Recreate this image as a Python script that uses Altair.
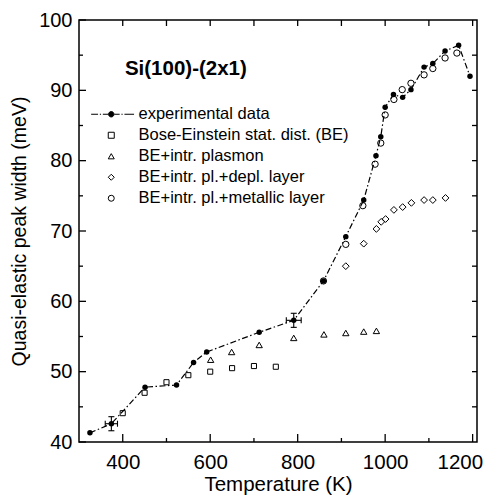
import altair as alt
import pandas as pd

FONT = "Liberation Sans"

# ---------------- data ----------------
series_names = [
    "experimental data",
    "Bose-Einstein stat. dist. (BE)",
    "BE+intr. plasmon",
    "BE+intr. pl.+depl. layer",
    "BE+intr. pl.+metallic layer",
]

exp_T = [325, 374, 451, 523, 562, 592, 712, 791, 859, 910, 951, 979, 990, 1000,
         1019, 1040, 1059, 1089, 1109, 1137, 1168, 1194]
exp_W = [41.3, 42.6, 47.8, 48.1, 51.3, 52.8, 55.6, 57.3, 62.9, 69.2, 74.4, 80.7, 83.4, 87.6,
         89.4, 89.0, 90.1, 93.3, 93.8, 95.6, 96.4, 92.0]

be_T = [400, 450, 500, 550, 600, 650, 700, 750]
be_W = [44.1, 47.0, 48.5, 49.5, 50.0, 50.5, 50.8, 50.7]

pl_T = [601, 649, 712, 791, 860, 910, 951, 980]
pl_W = [51.7, 52.8, 53.8, 54.8, 55.3, 55.5, 55.7, 55.8]

dep_T = [910, 951, 980, 991, 1001, 1020, 1040, 1060, 1089, 1109, 1138]
dep_W = [65.0, 68.2, 70.3, 71.3, 71.7, 73.0, 73.4, 74.0, 74.4, 74.4, 74.7]

met_T = [859, 910, 949, 977, 990, 1000, 1020, 1039, 1059, 1089, 1109, 1137, 1164]
met_W = [62.9, 68.1, 73.6, 79.5, 82.5, 86.5, 88.7, 90.1, 91.0, 92.2, 93.1, 94.6, 95.3]

err_T = [374, 791]
err_W = [42.6, 57.3]
err_dT = [14, 17]
err_dW = [1.0, 1.0]

x_labels = [400, 600, 800, 1000, 1200]
x_minor = [500, 700, 900, 1100]
x_top = [400, 500, 600, 700, 800, 900, 1000, 1100, 1200]
y_labels = [40, 50, 60, 70, 80, 90, 100]
y_minor = [45, 55, 65, 75, 85, 95]
y_right = [45, 50, 55, 60, 65, 70, 75, 80, 85, 90, 95]

panel_title = "Si(100)-(2x1)"

# ---------------- frames ----------------
W, H = 398, 422
xdom = [300, 1210]
ydom = [40, 100]
px_per_K = W / (xdom[1] - xdom[0])
px_per_meV = H / (ydom[1] - ydom[0])

exp_df = pd.DataFrame({"T": exp_T, "W": exp_W})

model_frames = []
for name, ts, ws in [
    (series_names[1], be_T, be_W),
    (series_names[2], pl_T, pl_W),
    (series_names[3], dep_T, dep_W),
    (series_names[4], met_T, met_W),
]:
    model_frames.append(pd.DataFrame({"T": ts, "W": ws, "series": name}))

# error bar segments
err_segs = []
for t, w, dt, dw in zip(err_T, err_W, err_dT, err_dW):
    cx = 3 / px_per_K
    cy = 3 / px_per_meV
    err_segs += [
        (t - dt, t + dt, w, w), (t, t, w - dw, w + dw),
        (t - cx, t + cx, w - dw, w - dw), (t - cx, t + cx, w + dw, w + dw),
        (t - dt, t - dt, w - cy, w + cy), (t + dt, t + dt, w - cy, w + cy),
    ]
err_df = pd.DataFrame(err_segs, columns=["x0", "x1", "y0", "y1"])

# inward axis ticks (lengths converted from pixels)
tick_segs = []
for v in x_labels:
    tick_segs.append((v, v, ydom[0], ydom[0] + 8 / px_per_meV))
for v in x_minor:
    tick_segs.append((v, v, ydom[0], ydom[0] + 4 / px_per_meV))
for v in x_top:
    tick_segs.append((v, v, ydom[1] - 6 / px_per_meV, ydom[1]))
for v in y_labels:
    tick_segs.append((xdom[0], xdom[0] + 7 / px_per_K, v, v))
for v in y_minor:
    tick_segs.append((xdom[0], xdom[0] + 4 / px_per_K, v, v))
for v in y_right:
    tick_segs.append((xdom[1] - 5 / px_per_K, xdom[1], v, v))
tick_df = pd.DataFrame(tick_segs, columns=["x0", "x1", "y0", "y1"])

xs = alt.Scale(domain=xdom, nice=False, zero=False)
ys = alt.Scale(domain=ydom, nice=False, zero=False)

x_enc = alt.X("T:Q", scale=xs, axis=alt.Axis(
    values=x_labels, title="Temperature (K)", format="d",
    ticks=False, domain=False, grid=False,
    labelFont=FONT, labelFontSize=20.5, labelColor="black", labelPadding=10,
    labelFlush=10, labelFlushOffset=10,
    titleFont=FONT, titleFontSize=20.5, titleFontWeight="normal", titleColor="black",
    titleBaseline="alphabetic", titleY=48.5))
y_enc = alt.Y("W:Q", scale=ys, axis=alt.Axis(
    values=y_labels, title="Quasi-elastic peak width (meV)", format="d",
    ticks=False, domain=False, grid=False,
    labelFont=FONT, labelFontSize=20, labelColor="black", labelPadding=7,
    titleFont=FONT, titleFontSize=19.5, titleFontWeight="normal", titleColor="black",
    titlePadding=9))

line = alt.Chart(exp_df).mark_line(
    color="black", strokeWidth=1.2, strokeDash=[6, 2.5, 1.5, 2.5]
).encode(x=x_enc, y=y_enc)
exp_pts = alt.Chart(exp_df).mark_circle(color="black", size=30, opacity=1).encode(
    x="T:Q", y="W:Q")

err_layer = alt.Chart(err_df).mark_rule(color="black", strokeWidth=1.1).encode(
    x="x0:Q", x2="x1:Q", y="y0:Q", y2="y1:Q")
tick_layer = alt.Chart(tick_df).mark_rule(color="black", strokeWidth=1.3).encode(
    x="x0:Q", x2="x1:Q", y="y0:Q", y2="y1:Q")

exp_path = ("M-6.7,0L-4.4,0M-3.8,0L-3.4,0M-2.8,0L-1,0"
            "M1,0L2.8,0M3.4,0L3.8,0M4.4,0L7.6,0"
            "M0.9,0A0.9,0.9 0 1,1 -0.9,0A0.9,0.9 0 1,1 0.9,0Z")
shape_scale = alt.Scale(domain=series_names,
                        range=[exp_path, "square", "triangle-up", "diamond", "circle"])
fill_scale = alt.Scale(domain=series_names,
                       range=["black", "transparent", "transparent", "transparent", "transparent"])
stroke_scale = alt.Scale(domain=series_names, range=["black"] * 5)
legend = alt.Legend(
    orient="none", legendX=24, legendY=86, title=None, padding=0,
    labelFont=FONT, labelFontSize=16.5, labelColor="black", labelOffset=19,
    symbolSize=36, symbolStrokeWidth=1, symbolStrokeColor="black",
    rowPadding=4, labelLimit=400)

sizes = [26, 40, 46, 40]
model_layers = []
for df, sz in zip(model_frames, sizes):
    model_layers.append(
        alt.Chart(df).mark_point(filled=False, strokeWidth=1, size=sz, opacity=1).encode(
            x="T:Q", y="W:Q",
            shape=alt.Shape("series:N", scale=shape_scale, legend=legend),
            fill=alt.Fill("series:N", scale=fill_scale, legend=legend),
            stroke=alt.Stroke("series:N", scale=stroke_scale, legend=legend),
        )
    )

title_df = pd.DataFrame({"T": [405], "W": [93.1], "t": [panel_title]})
title_txt = alt.Chart(title_df).mark_text(
    font=FONT, fontSize=20.5, fontWeight="bold", align="left", baseline="middle", color="black"
).encode(x="T:Q", y="W:Q", text="t:N")

chart = alt.layer(
    line, *model_layers, exp_pts, title_txt, err_layer, tick_layer
).properties(
    width=W, height=H,
    autosize=alt.AutoSizeParams(type="none"),
    padding={"left": 71, "top": 12, "right": 12, "bottom": 53},
    background="white",
).configure_view(
    stroke="black", strokeWidth=1.5
)

chart.save("out.html", embed_options={"renderer": "svg", "actions": False})
